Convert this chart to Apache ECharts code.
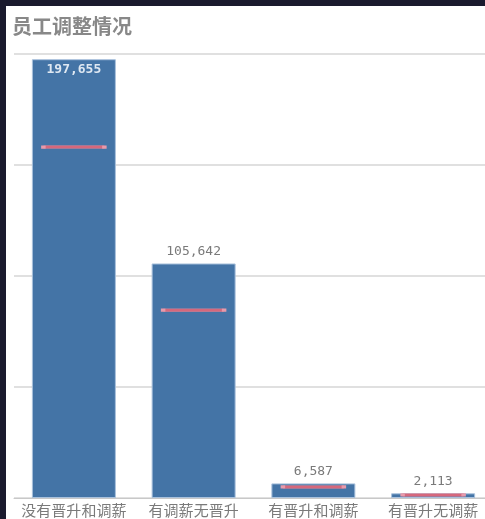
<!DOCTYPE html>
<html><head><meta charset="utf-8">
<script src="https://cdn.jsdelivr.net/npm/echarts@6/dist/echarts.min.js"></script>
<style>
html,body{margin:0;padding:0;background:#1a1a2e;width:485px;height:519px;overflow:hidden;}
#c{position:absolute;left:6px;top:6px;width:479px;height:513px;background:#fff;}
</style></head>
<body><div id="c"></div>
<script>
const categories = ['没有晋升和调薪','有调薪无晋升','有晋升和调薪','有晋升无调薪'];
const counts = [197655, 105642, 6587, 2113];
const markers = [158100, 84600, 5000, 1400];
const yTicks = [0, 50000, 100000, 150000, 200000];

const chart = echarts.init(document.getElementById('c'));
chart.setOption({
  backgroundColor: '#fff',
  animation: false,
  title: {
    text: '员工调整情况', left: 1, top: 5,
    textStyle: {fontSize: 20, fontWeight: 'bold', color: '#888', fontFamily: 'Noto Sans CJK SC'}
  },
  grid: {left: 8, top: 48, width: 479, bottom: 21, containLabel: false, outerBoundsMode: 'none'},
  xAxis: {
    type: 'category', data: categories,
    axisLine: {lineStyle: {color: '#c8c8c8', width: 1}},
    axisTick: {show: false},
    axisLabel: {color: '#7a7a7a', fontSize: 15, margin: 5, fontFamily: 'Noto Sans CJK SC', interval: 0}
  },
  yAxis: {
    type: 'value', min: yTicks[0], max: yTicks[yTicks.length-1], interval: 50000,
    axisLabel: {show: false}, axisLine: {show: false}, axisTick: {show: false},
    splitLine: {lineStyle: {color: '#e0e0e0', width: 2}}
  },
  series: [
    {
      type: 'bar', data: counts.map((v, i) => ({
        value: v,
        label: i === 0 ? {position: 'insideTop', distance: 4, color: '#dfe8f2', fontWeight: 'bold'} : {position: 'top', distance: 5, color: '#7a7a7a'}
      })),
      barWidth: 84,
      itemStyle: {color: '#4474a6', borderColor: '#a9c1dc', borderWidth: 1},
      label: {show: true, fontSize: 13, fontFamily: 'DejaVu Sans Mono',
        formatter: p => p.value.toLocaleString('en-US')},
      z: 2
    },
    {
      type: 'scatter', data: markers, symbol: 'rect', symbolSize: [61, 3],
      itemStyle: {color: '#d6687c', borderColor: '#e79aab', borderWidth: 1, opacity: 1},
      z: 3
    }
  ]
});
</script></body></html>
